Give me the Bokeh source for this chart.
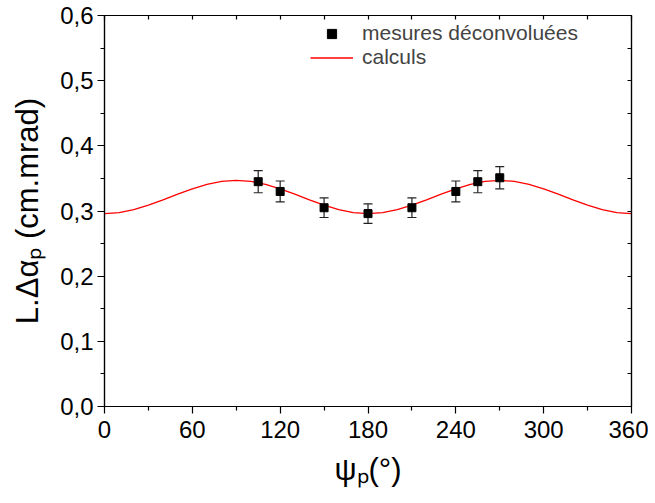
from bokeh.plotting import figure
from bokeh.models import (ColumnDataSource, Whisker, TeeHead, LinearAxis, FixedTicker,
                          CustomJSTickFormatter, Legend, LegendItem, Range1d)
from bokeh.embed import file_html
from bokeh.resources import INLINE

# ---- data ----
psi_meas = [105, 120, 150, 180, 210, 240, 255, 270]
L_meas = [0.345, 0.330, 0.305, 0.296, 0.305, 0.330, 0.345, 0.351]
L_err = [0.017, 0.016, 0.015, 0.015, 0.015, 0.016, 0.017, 0.017]

psi_calc = [0, 10, 20, 30, 40, 50, 60, 70, 80, 90, 100, 110, 120, 130, 140, 150, 160, 170, 180,
            190, 200, 210, 220, 230, 240, 250, 260, 270, 280, 290, 300, 310, 320, 330, 340, 350, 360]
L_calc = [0.296, 0.2975, 0.302, 0.309, 0.317, 0.326, 0.334, 0.341, 0.3455, 0.347,
          0.3455, 0.341, 0.334, 0.326, 0.317, 0.309, 0.302, 0.2975, 0.296,
          0.2975, 0.302, 0.309, 0.317, 0.326, 0.334, 0.341, 0.3455, 0.347,
          0.3455, 0.341, 0.334, 0.326, 0.317, 0.309, 0.302, 0.2975, 0.296]

x_ticks = [0, 60, 120, 180, 240, 300, 360]
x_minor = [30, 90, 150, 210, 270, 330]
y_ticks = [0.0, 0.1, 0.2, 0.3, 0.4, 0.5, 0.6]
y_minor = [0.05, 0.15, 0.25, 0.35, 0.45, 0.55]

legend_labels = ["mesures déconvoluées", "calculs"]
x_title = "ψₚ(°)"
y_title = "L.Δαₚ (cm.mrad)"

FONT = "Liberation Sans"

p = figure(width=648, height=500, output_backend="svg", toolbar_location=None,
           x_range=Range1d(0, 360), y_range=Range1d(0, 0.6),
           min_border_left=104, min_border_right=17, min_border_top=15, min_border_bottom=94)
p.xgrid.visible = False
p.ygrid.visible = False
p.outline_line_color = "black"
p.outline_line_width = 1.2
p.background_fill_color = "white"
p.border_fill_color = "white"

# main axes
for ax in (p.xaxis[0], p.yaxis[0]):
    ax.axis_line_color = "black"
    ax.axis_line_width = 1.2
    ax.major_tick_line_color = "black"
    ax.minor_tick_line_color = "black"
    ax.major_tick_line_width = 1.2
    ax.minor_tick_line_width = 1.2
    ax.major_tick_out = 7
    ax.major_tick_in = 0
    ax.minor_tick_out = 4
    ax.minor_tick_in = 0
    ax.major_label_text_font = FONT
    ax.major_label_text_font_size = "24px"
    ax.major_label_text_color = "black"
    ax.axis_label_text_font = FONT
    ax.axis_label_text_font_size = "31px"
    ax.axis_label_text_font_style = "normal"
    ax.axis_label_text_color = "black"

p.xaxis[0].ticker = FixedTicker(ticks=x_ticks, minor_ticks=x_minor)
p.yaxis[0].ticker = FixedTicker(ticks=y_ticks, minor_ticks=y_minor)
p.yaxis[0].formatter = CustomJSTickFormatter(code="return tick.toFixed(1).replace('.', ',');")
p.xaxis[0].major_label_standoff = 7
p.yaxis[0].major_label_standoff = 4
p.xaxis[0].axis_label = x_title
p.yaxis[0].axis_label = y_title
p.xaxis[0].axis_label_standoff = 11
p.yaxis[0].axis_label_standoff = 12

# top / right axes: small inward ticks only, no labels
blank = "return '';"
top = LinearAxis(ticker=FixedTicker(ticks=x_ticks + x_minor, minor_ticks=[]),
                 formatter=CustomJSTickFormatter(code=blank),
                 major_tick_in=4, major_tick_out=0,
                 minor_tick_in=0, minor_tick_out=0, axis_line_color="black",
                 major_label_standoff=0, axis_line_width=1.2, major_tick_line_width=1.2)
right = LinearAxis(ticker=FixedTicker(ticks=y_ticks + y_minor, minor_ticks=[]),
                   formatter=CustomJSTickFormatter(code=blank),
                   major_tick_in=4, major_tick_out=0,
                   minor_tick_in=0, minor_tick_out=0, axis_line_color="black",
                   major_label_standoff=0, axis_line_width=1.2, major_tick_line_width=1.2)
p.add_layout(top, "above")
p.add_layout(right, "right")

# curve
line_r = p.line(psi_calc, L_calc, line_color="#ff0000", line_width=1.3)

# error bars
upper = [v + e for v, e in zip(L_meas, L_err)]
lower = [v - e for v, e in zip(L_meas, L_err)]
src = ColumnDataSource(data=dict(x=psi_meas, y=L_meas, upper=upper, lower=lower))
wh = Whisker(source=src, base="x", upper="upper", lower="lower", dimension="height",
             line_color="#222222", line_width=1.2,
             upper_head=TeeHead(size=9, line_color="#222222", line_width=1.2),
             lower_head=TeeHead(size=9, line_color="#222222", line_width=1.2))
p.add_layout(wh)

pts = p.scatter("x", "y", source=src, marker="square", size=8, fill_color="black",
                line_color="black")

legend = Legend(items=[LegendItem(label=legend_labels[0], renderers=[pts]),
                       LegendItem(label=legend_labels[1], renderers=[line_r])],
                location=(206, 337), glyph_width=43, glyph_height=23, spacing=0,
                label_standoff=9, padding=0, margin=0, border_line_alpha=0,
                background_fill_alpha=0, label_text_font=FONT, label_text_font_size="21px",
                label_height=23)
p.add_layout(legend, "center")

open("out.html", "w").write(file_html(p, INLINE))
